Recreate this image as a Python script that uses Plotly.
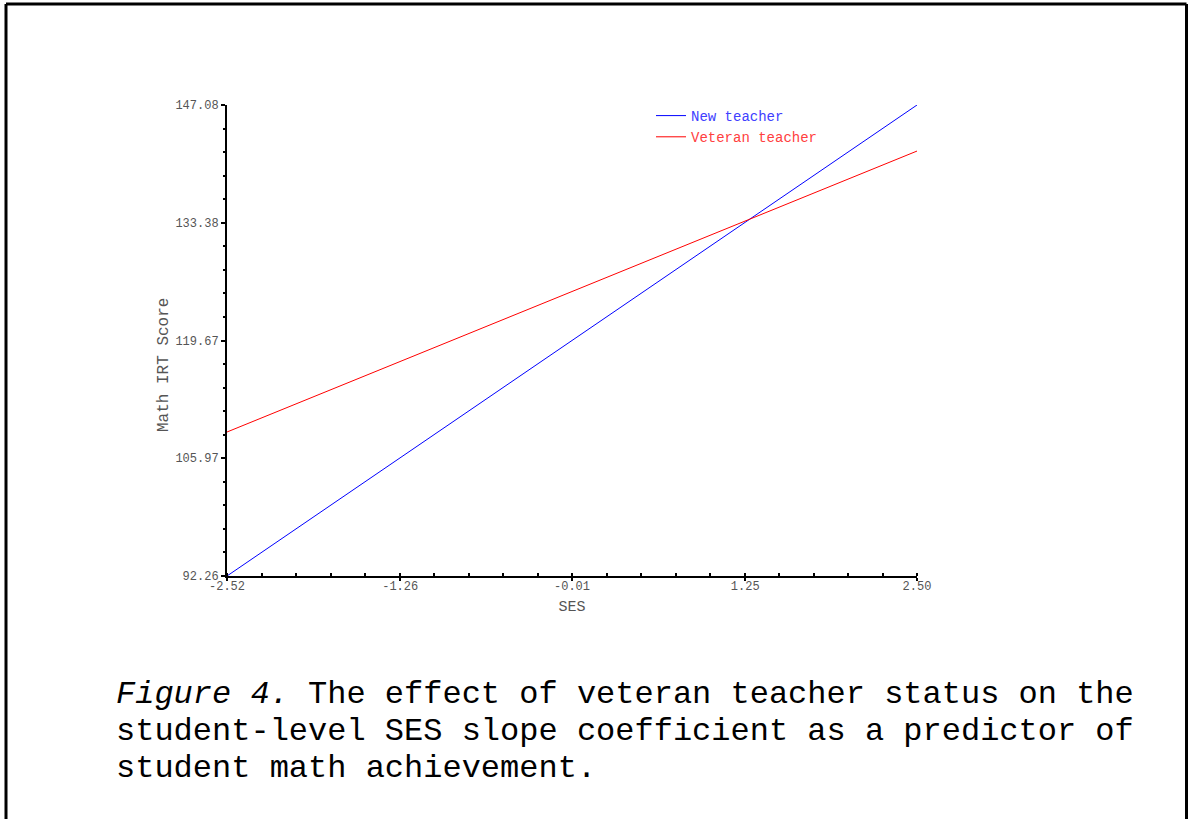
import plotly.graph_objects as go

# Data
ses = [-2.52, 2.50]
new_teacher = [92.26, 147.08]
veteran_teacher = [109.02, 141.72]
x_ticks = [-2.52, -1.26, -0.01, 1.25, 2.50]
x_ticklabels = ["-2.52", "-1.26", "-0.01", "1.25", "2.50"]
y_ticks = [92.26, 105.97, 119.67, 133.38, 147.08]
y_ticklabels = ["92.26", "105.97", "119.67", "133.38", "147.08"]
caption_lines = [
    "<i>Figure 4.</i> The effect of veteran teacher status on the",
    "student-level SES slope coefficient as a predictor of",
    "student math achievement.",
]

MONO = "Liberation Mono, Courier New, monospace"
GREY = "#555"

fig = go.Figure()
fig.add_trace(go.Scatter(x=ses, y=new_teacher, mode="lines",
                         line=dict(color="#0000ff", width=1),
                         name="<span style='color:#4040ff'>New teacher</span>"))
fig.add_trace(go.Scatter(x=ses, y=veteran_teacher, mode="lines",
                         line=dict(color="#ff0000", width=1),
                         name="<span style='color:#ff4040'>Veteran teacher</span>"))

W, H = 1188, 819
L, R, T, B = 227, 917, 105, 576
pw, ph = R - L, B - T

def px(xp):
    return (xp - L) / pw

def py(yp):
    return (B - yp) / ph

fig.update_layout(
    width=W, height=H,
    margin=dict(l=L, r=W - R, t=T, b=H - B),
    paper_bgcolor="white", plot_bgcolor="white",
    font=dict(family=MONO, color=GREY),
    showlegend=True,
    legend=dict(x=px(651), y=py(100), xanchor="left", yanchor="top",
                font=dict(family=MONO, size=14), bgcolor="rgba(0,0,0,0)",
                itemwidth=30, tracegroupgap=0),
    xaxis=dict(range=[-2.52, 2.50], tickmode="array", tickvals=x_ticks,
               ticktext=x_ticklabels, showgrid=False, zeroline=False,
               showline=True, linecolor="black", linewidth=2,
               ticks="outside", ticklen=3, tickcolor="black", tickwidth=2,
               ticklabelstandoff=-5,
               tickfont=dict(family=MONO, size=12, color=GREY),
               minor=dict(tick0=-2.52, dtick=0.251, ticks="inside", ticklen=3,
                          tickcolor="black", tickwidth=2, showgrid=False),
               title=dict(text="SES", font=dict(family=MONO, size=15, color=GREY),
                          standoff=7)),
    yaxis=dict(range=[92.26, 147.08], tickmode="array", tickvals=y_ticks,
               ticktext=y_ticklabels, showgrid=False, zeroline=False,
               showline=True, linecolor="black", linewidth=2,
               ticks="outside", ticklen=4, tickcolor="black", tickwidth=2,
               tickfont=dict(family=MONO, size=12, color=GREY),
               minor=dict(tick0=92.26, dtick=2.741, ticks="outside", ticklen=2,
                          tickcolor="black", tickwidth=2, showgrid=False)),
)

# y-axis title (placed below the axis centre as in the original)
fig.add_annotation(text="Math IRT Score", xref="paper", yref="paper",
                   x=px(164), y=py(365), xanchor="center", yanchor="middle",
                   textangle=-90, showarrow=False,
                   font=dict(family=MONO, size=16, color=GREY))

# border (open at bottom)
border = dict(color="black", width=3)
xl, xr, yt, yb = px(6), px(1186.5), py(4), py(830)
fig.add_shape(type="line", xref="paper", yref="paper", x0=xl, x1=xl, y0=yb, y1=yt, line=border)
fig.add_shape(type="line", xref="paper", yref="paper", x0=xl, x1=xr, y0=yt, y1=yt, line=border)
fig.add_shape(type="line", xref="paper", yref="paper", x0=xr, x1=xr, y0=yb, y1=yt, line=border)

for line, ypix in zip(caption_lines, [694, 731, 768]):
    fig.add_annotation(text=line, xref="paper", yref="paper", x=px(114), y=py(ypix),
                       xanchor="left", yanchor="middle", showarrow=False, align="left",
                       font=dict(family=MONO, size=32, color="black"))

fig.write_html("out.html", config={"displayModeBar": False},
               post_script="document.body.style.margin='0px';")
